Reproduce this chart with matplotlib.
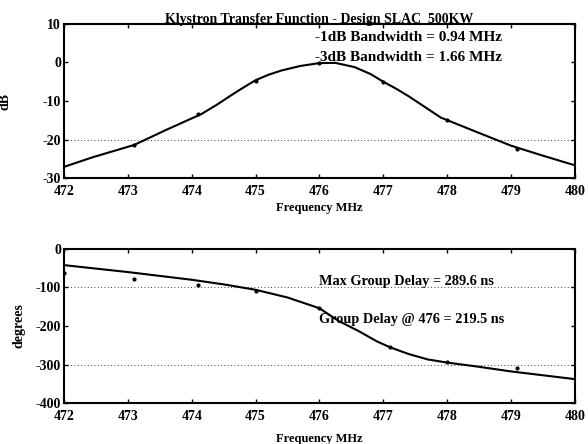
import numpy as np
import matplotlib.pyplot as plt

# --- Data
freq_line = [472.0, 472.45, 473.1, 473.6, 474.15, 474.4, 474.6, 474.8, 475.0,
             475.2, 475.4, 475.7, 476.0, 476.25, 476.55, 476.8, 477.0, 477.2,
             477.4, 477.6, 477.9, 478.5, 479.0, 479.5, 480.0]
gain_line = [-27.1, -24.6, -21.4, -17.5, -13.4, -10.9, -8.7, -6.6, -4.6,
             -3.2, -2.1, -0.9, -0.15, -0.1, -1.2, -3.0, -5.0, -6.8,
             -8.8, -11.0, -14.3, -18.3, -21.6, -24.2, -26.7]
freq_pts = [473.1, 474.1, 475.0, 476.0, 477.0, 478.0, 479.1]
gain_pts = [-21.5, -13.3, -4.7, -0.2, -5.0, -15.0, -22.4]

freq_ph_line = [472, 472.5, 473, 473.5, 474, 474.5, 475, 475.5, 476, 476.3,
                476.6, 476.9, 477.1, 477.4, 477.7, 478, 478.5, 479, 479.5, 480]
phase_line = [-42, -51, -60, -70, -80, -92, -106, -126, -154, -187,
              -212, -240, -255, -273, -287, -295, -306, -318, -328, -338]
freq_ph_pts = [472.0, 473.1, 474.1, 475.0, 476.0, 477.1, 478.0, 479.1]
phase_pts = [-63, -78, -93, -108, -154, -255, -293, -310]

xticks = [472, 473, 474, 475, 476, 477, 478, 479, 480]

plt.rcParams['font.family'] = ['Liberation Serif', 'DejaVu Serif']
plt.rcParams['font.weight'] = 'bold'
plt.rcParams['axes.labelweight'] = 'bold'
plt.rcParams['axes.titleweight'] = 'bold'

fig = plt.figure(figsize=(5.88, 4.44), dpi=100)
ax1 = fig.add_axes([0.1088, 0.599, 0.869, 0.347])
ax2 = fig.add_axes([0.1088, 0.0923, 0.869, 0.347])


def style(ax, yticks):
    ax.set_xlim(472, 480)
    ax.set_xticks(xticks)
    ax.set_xticklabels([str(t) for t in xticks])
    ax.set_yticks(yticks)
    ax.set_yticklabels([str(t) for t in yticks])
    ax.tick_params(direction='in', top=True, right=True, length=3,
                   width=1, labelsize=10)
    ax.tick_params(axis='x', pad=5)
    ax.tick_params(axis='y', pad=2)
    for s in ax.spines.values():
        s.set_linewidth(1.5)


# top panel: gain
ax1.plot(freq_line, gain_line, color='black', lw=1.5)
ax1.plot(freq_pts, gain_pts, 'k.', ms=4)
ax1.axhline(-20, color='black', lw=0.6, ls=(0, (1, 3)))
ax1.set_ylim(-30, 10)
style(ax1, [-30, -20, -10, 0, 10])
ax1.set_title('Klystron Transfer Function - Design SLAC_500KW',
              fontsize=10, pad=1)
ax1.set_xlabel('Frequency MHz', fontsize=9, labelpad=3)
ax1.set_ylabel('dB', fontsize=10)
ax1.yaxis.set_label_coords(-0.102, 0.5)
ax1.text(475.93, 6.4, '-1dB Bandwidth = 0.94 MHz', fontsize=11, va='center')
ax1.text(475.93, 1.4, '-3dB Bandwidth = 1.66 MHz', fontsize=11, va='center')

# bottom panel: phase
ax2.plot(freq_ph_line, phase_line, color='black', lw=1.5)
ax2.plot(freq_ph_pts, phase_pts, 'k.', ms=4)
for g in [-100, -300]:
    ax2.axhline(g, color='black', lw=0.6, ls=(0, (1, 3)))
ax2.set_ylim(-400, 0)
style(ax2, [-400, -300, -200, -100, 0])
ax2.set_xlabel('Frequency MHz', fontsize=9, labelpad=7)
ax2.set_ylabel('degrees', fontsize=10)
ax2.yaxis.set_label_coords(-0.076, 0.5)
ax2.text(476.0, -85, 'Max Group Delay = 289.6 ns', fontsize=10.3, va='center')
ax2.text(476.0, -182, 'Group Delay @ 476 = 219.5 ns', fontsize=10.3,
         va='center')

fig.savefig('out.png', dpi=100)
